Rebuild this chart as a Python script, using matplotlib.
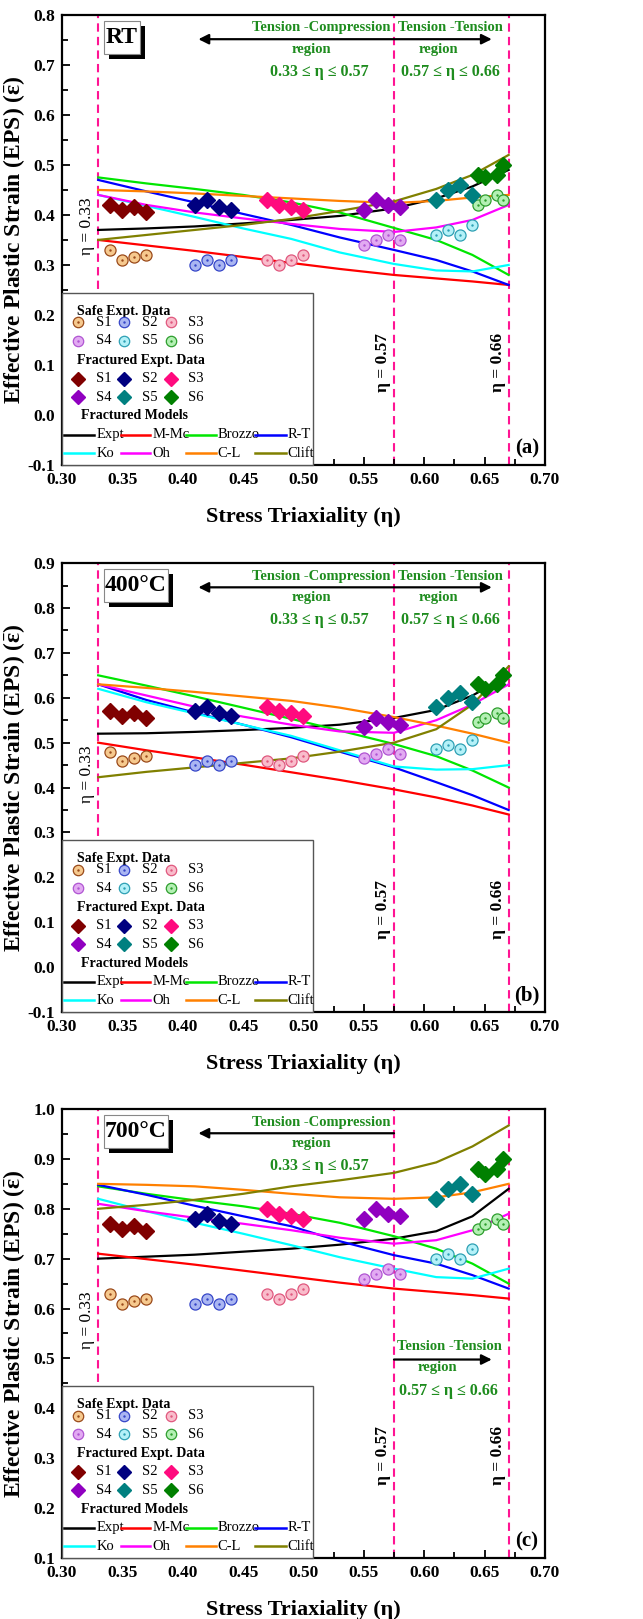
import numpy as np
import matplotlib
matplotlib.use('Agg')
import matplotlib.pyplot as plt
from matplotlib.patches import Rectangle
from matplotlib.lines import Line2D
from matplotlib.ticker import MultipleLocator, FormatStrFormatter

plt.rcParams['font.family'] = ['Liberation Serif', 'DejaVu Serif']
plt.rcParams['mathtext.fontset'] = 'custom'
plt.rcParams['mathtext.rm'] = 'Liberation Serif:bold'
plt.rcParams['mathtext.it'] = 'Liberation Serif:bold'
plt.rcParams['mathtext.bf'] = 'Liberation Serif:bold'

# stress triaxiality of the four tests of every specimen
eta_s1 = [0.34, 0.35, 0.36, 0.37]
eta_s2 = [0.41, 0.42, 0.43, 0.44]
eta_s3 = [0.47, 0.48, 0.49, 0.50]
eta_s4 = [0.55, 0.56, 0.57, 0.58]
eta_s5 = [0.61, 0.62, 0.63, 0.64]
eta_s6 = [0.645, 0.65, 0.66, 0.665]
eta_specimens = [eta_s1, eta_s2, eta_s3, eta_s4, eta_s5, eta_s6]
specimen_names = ['S1', 'S2', 'S3', 'S4', 'S5', 'S6']

# safe / fractured experimental strains (S1..S6)
safe_rt = [[0.33, 0.31, 0.315, 0.32], [0.30, 0.31, 0.30, 0.31], [0.31, 0.30, 0.31, 0.32],
           [0.34, 0.35, 0.36, 0.35], [0.36, 0.37, 0.36, 0.38], [0.42, 0.43, 0.44, 0.43]]
frac_rt = [[0.42, 0.41, 0.415, 0.405], [0.42, 0.43, 0.415, 0.41], [0.43, 0.42, 0.415, 0.41],
           [0.41, 0.43, 0.42, 0.415], [0.43, 0.45, 0.46, 0.44], [0.48, 0.475, 0.48, 0.50]]
safe_400 = [[0.48, 0.46, 0.465, 0.47], [0.45, 0.46, 0.45, 0.46], [0.46, 0.45, 0.46, 0.47],
            [0.465, 0.475, 0.485, 0.475], [0.485, 0.495, 0.485, 0.505], [0.545, 0.555, 0.565, 0.555]]
frac_400 = [[0.57, 0.56, 0.565, 0.555], [0.57, 0.58, 0.565, 0.56], [0.58, 0.57, 0.565, 0.56],
            [0.535, 0.555, 0.545, 0.54], [0.58, 0.60, 0.61, 0.59], [0.63, 0.62, 0.63, 0.65]]
safe_700 = [[0.63, 0.61, 0.615, 0.62], [0.61, 0.62, 0.61, 0.62], [0.63, 0.62, 0.63, 0.64],
            [0.66, 0.67, 0.68, 0.67], [0.70, 0.71, 0.70, 0.72], [0.76, 0.77, 0.78, 0.77]]
frac_700 = [[0.77, 0.76, 0.765, 0.755], [0.78, 0.79, 0.775, 0.77], [0.80, 0.79, 0.785, 0.78],
            [0.78, 0.80, 0.79, 0.785], [0.82, 0.84, 0.85, 0.83], [0.88, 0.87, 0.88, 0.90]]

# fracture model curves
eta_curve = [0.33, 0.37, 0.41, 0.45, 0.49, 0.53, 0.575, 0.61, 0.64, 0.67]
model_names = ['Expt', 'M-Mc', 'Brozzo', 'R-T', 'Ko', 'Oh', 'C-L', 'Clift']
models_rt = {
    'Expt':   [0.37, 0.373, 0.377, 0.383, 0.39, 0.398, 0.413, 0.433, 0.457, 0.49],
    'M-Mc':   [0.35, 0.339, 0.328, 0.316, 0.304, 0.292, 0.28, 0.273, 0.267, 0.26],
    'Brozzo': [0.475, 0.463, 0.452, 0.44, 0.425, 0.405, 0.374, 0.35, 0.32, 0.28],
    'R-T':    [0.47, 0.447, 0.425, 0.402, 0.38, 0.355, 0.33, 0.31, 0.287, 0.26],
    'Ko':     [0.44, 0.418, 0.396, 0.373, 0.352, 0.325, 0.302, 0.289, 0.287, 0.30],
    'Oh':     [0.44, 0.42, 0.405, 0.393, 0.382, 0.372, 0.366, 0.375, 0.39, 0.42],
    'C-L':    [0.45, 0.447, 0.443, 0.438, 0.433, 0.428, 0.424, 0.428, 0.435, 0.44],
    'Clift':  [0.35, 0.36, 0.37, 0.38, 0.392, 0.408, 0.427, 0.452, 0.48, 0.52],
}
models_400 = {
    'Expt':   [0.52, 0.521, 0.524, 0.528, 0.533, 0.54, 0.555, 0.573, 0.605, 0.65],
    'M-Mc':   [0.50, 0.483, 0.467, 0.451, 0.434, 0.417, 0.396, 0.378, 0.36, 0.34],
    'Brozzo': [0.65, 0.627, 0.603, 0.578, 0.553, 0.527, 0.497, 0.47, 0.438, 0.40],
    'R-T':    [0.63, 0.595, 0.567, 0.54, 0.512, 0.48, 0.445, 0.412, 0.383, 0.35],
    'Ko':     [0.62, 0.59, 0.565, 0.54, 0.515, 0.483, 0.447, 0.44, 0.441, 0.45],
    'Oh':     [0.63, 0.605, 0.58, 0.558, 0.54, 0.525, 0.522, 0.55, 0.585, 0.63],
    'C-L':    [0.63, 0.622, 0.613, 0.603, 0.593, 0.578, 0.557, 0.538, 0.52, 0.50],
    'Clift':  [0.423, 0.435, 0.445, 0.455, 0.465, 0.48, 0.50, 0.53, 0.585, 0.67],
}
models_700 = {
    'Expt':   [0.70, 0.704, 0.708, 0.714, 0.72, 0.728, 0.74, 0.755, 0.785, 0.84],
    'M-Mc':   [0.71, 0.699, 0.688, 0.676, 0.664, 0.652, 0.64, 0.633, 0.627, 0.62],
    'Brozzo': [0.845, 0.83, 0.817, 0.805, 0.79, 0.772, 0.745, 0.72, 0.69, 0.65],
    'R-T':    [0.848, 0.828, 0.806, 0.785, 0.765, 0.735, 0.707, 0.69, 0.667, 0.64],
    'Ko':     [0.82, 0.795, 0.772, 0.75, 0.727, 0.703, 0.68, 0.663, 0.66, 0.68],
    'Oh':     [0.81, 0.795, 0.782, 0.77, 0.757, 0.742, 0.73, 0.737, 0.757, 0.79],
    'C-L':    [0.85, 0.848, 0.845, 0.838, 0.83, 0.823, 0.82, 0.823, 0.833, 0.85],
    'Clift':  [0.80, 0.808, 0.818, 0.83, 0.845, 0.857, 0.872, 0.893, 0.925, 0.967],
}

eta_lines = [0.33, 0.575, 0.67]

# styles
safe_fill = ['#F6C98E', '#AAB6F2', '#F9BCCB', '#E2AAF2', '#B4F1F8', '#B4F0B4']
safe_edge = ['#9A4A1A', '#3646C8', '#E0587E', '#B055D2', '#2EA0B4', '#2E9E2E']
frac_color = ['#800000', '#000080', '#FF0A7E', '#9000C0', '#008080', '#008000']
model_color = {'Expt': 'black', 'M-Mc': '#FF0000', 'Brozzo': '#00E600', 'R-T': '#0000FF',
               'Ko': '#00FFFF', 'Oh': '#FF00FF', 'C-L': '#FF8000', 'Clift': '#808000'}
pink = '#FF1493'
green = '#1E8C1E'


def draw_legend(ax):
    ax.add_patch(Rectangle((0, 0), 0.52, 0.383, transform=ax.transAxes, facecolor='white',
                           edgecolor='#555555', lw=1.0, zorder=6, clip_on=False))
    kw = dict(transform=ax.transAxes, zorder=7, va='center')
    ax.text(0.032, 0.341, 'Safe Expt. Data', fontsize=10, fontweight='bold', **kw)
    ax.text(0.032, 0.233, 'Fractured Expt. Data', fontsize=10, fontweight='bold', **kw)
    ax.text(0.039, 0.109, 'Fractured Models', fontsize=10, fontweight='bold', **kw)
    col_x = [0.034, 0.129, 0.225]
    for i in range(6):
        x = col_x[i % 3]
        y_safe = [0.317, 0.276][i // 3]
        y_frac = [0.192, 0.151][i // 3]
        ax.plot([x], [y_safe], 'o', ms=7.5, mfc=safe_fill[i], mec=safe_edge[i], mew=0.9,
                transform=ax.transAxes, zorder=7, clip_on=False)
        ax.plot([x], [y_safe], '.', ms=1.5, color=safe_edge[i], transform=ax.transAxes,
                zorder=8, clip_on=False)
        ax.text(x + 0.036, y_safe, specimen_names[i], fontsize=10.5, **kw)
        ax.plot([x], [y_frac], 'D', ms=7.5, color=frac_color[i], transform=ax.transAxes,
                zorder=7, clip_on=False)
        ax.text(x + 0.036, y_frac, specimen_names[i], fontsize=10.5, **kw)
    seg_x = [(0.0045, 0.067), (0.122, 0.183), (0.257, 0.318), (0.400, 0.463)]
    for i, name in enumerate(model_names):
        x0, x1 = seg_x[i % 4]
        y = [0.067, 0.026][i // 4]
        ax.add_line(Line2D([x0, x1], [y, y], color=model_color[name], lw=1.8,
                           transform=ax.transAxes, zorder=7))
        ax.text(x1 + 0.004, y, name, fontsize=10.5, **kw)


def draw_panel(ax, safe, frac, models, ylim, tag, letter):
    ax.set_xlim(0.30, 0.70)
    ax.set_ylim(*ylim)
    for x in eta_lines:
        ax.axvline(x, color=pink, ls=(0, (4, 2.5)), lw=1.5, zorder=1)
    for name in model_names:
        ax.plot(eta_curve, models[name], color=model_color[name], lw=1.6, zorder=2)
    for i in range(6):
        ax.plot(eta_specimens[i], safe[i], 'o', ms=8, mfc=safe_fill[i], mec=safe_edge[i],
                mew=0.9, zorder=3)
        ax.plot(eta_specimens[i], safe[i], '.', ms=1.5, color=safe_edge[i], zorder=4)
        ax.plot(eta_specimens[i], frac[i], 'D', ms=8.5, color=frac_color[i], zorder=4)

    ax.xaxis.set_major_locator(MultipleLocator(0.05))
    ax.xaxis.set_minor_locator(MultipleLocator(0.025))
    ax.yaxis.set_major_locator(MultipleLocator(0.1))
    ax.yaxis.set_minor_locator(MultipleLocator(0.05))
    ax.xaxis.set_major_formatter(FormatStrFormatter('%.2f'))
    ax.yaxis.set_major_formatter(FormatStrFormatter('%.1f'))
    ax.tick_params(which='both', direction='in', top=False, right=False, width=1.3)
    ax.tick_params(which='major', length=6, labelsize=12.5, pad=5)
    ax.tick_params(which='minor', length=4)
    for lab in ax.get_xticklabels() + ax.get_yticklabels():
        lab.set_fontweight('bold')
    for sp in ax.spines.values():
        sp.set_linewidth(1.6)

    ax.set_xlabel('Stress Triaxiality (η)', fontsize=16, fontweight='bold')
    ax.set_ylabel('Effective Plastic Strain (EPS) ($\\bar{\\mathrm{\\varepsilon}}$)',
                  fontsize=17, fontweight='bold')
    ax.xaxis.set_label_coords(0.5, -0.093)
    ax.yaxis.set_label_coords(-0.073, 0.5)

    tr = ax.get_xaxis_transform()
    ax.text(0.3275, 0.53, 'η = 0.33', rotation=90, ha='right', va='center', fontsize=12.5,
            transform=tr)
    ax.text(0.5725, 0.228, 'η = 0.57', rotation=90, ha='right', va='center', fontsize=12.5,
            fontweight='bold', transform=tr)
    ax.text(0.6675, 0.228, 'η = 0.66', rotation=90, ha='right', va='center', fontsize=12.5,
            fontweight='bold', transform=tr)

    # temperature box with shadow
    w = 0.074 if tag == 'RT' else 0.132
    ax.add_patch(Rectangle((0.097, 0.902), w, 0.073, transform=ax.transAxes,
                           facecolor='black', edgecolor='none', zorder=5))
    ax.add_patch(Rectangle((0.087, 0.913), w, 0.073, transform=ax.transAxes,
                           facecolor='white', edgecolor='#888888', lw=0.8, zorder=6))
    ax.text(0.087 + w / 2, 0.9495, tag, ha='center', va='center', fontsize=17,
            fontweight='bold', transform=ax.transAxes, zorder=7)

    # region annotations
    tkw = dict(ha='center', va='center', fontsize=10.5, fontweight='bold', color=green,
               transform=tr)
    ikw = dict(tkw, fontsize=11.5)
    ax.text(0.515, 0.971, 'Tension -Compression', **tkw)
    ax.text(0.507, 0.923, 'region', **tkw)
    ax.text(0.513, 0.873, '0.33 ≤ η ≤ 0.57', **ikw)
    akw = dict(color='black', lw=1.6, mutation_scale=15, shrinkA=0, shrinkB=0)
    if letter != '(c)':
        ax.text(0.622, 0.971, 'Tension -Tension', **tkw)
        ax.text(0.612, 0.923, 'region', **tkw)
        ax.text(0.622, 0.873, '0.57 ≤ η ≤ 0.66', **ikw)
        ax.annotate('', xy=(0.413, 0.946), xytext=(0.656, 0.946), xycoords=tr,
                    textcoords=tr, arrowprops=dict(arrowstyle='<|-|>', **akw))
    else:
        ax.annotate('', xy=(0.413, 0.946), xytext=(0.575, 0.946), xycoords=tr,
                    textcoords=tr, arrowprops=dict(arrowstyle='-|>', **akw))
        ax.text(0.621, 0.472, 'Tension -Tension', **tkw)
        ax.text(0.611, 0.424, 'region', **tkw)
        ax.text(0.620, 0.373, '0.57 ≤ η ≤ 0.66', **ikw)
        ax.annotate('', xy=(0.656, 0.442), xytext=(0.575, 0.442), xycoords=tr,
                    textcoords=tr, arrowprops=dict(arrowstyle='-|>', **akw))

    ax.text(0.685, 0.036, letter, ha='center', va='center', fontsize=15, fontweight='bold',
            transform=tr)
    draw_legend(ax)


fig = plt.figure(figsize=(6.43, 16.19), dpi=100)
ax_a = fig.add_axes([0.0964, 0.7128, 0.751, 0.278])
ax_b = fig.add_axes([0.0964, 0.3749, 0.751, 0.2773])
ax_c = fig.add_axes([0.0964, 0.0377, 0.751, 0.2773])

draw_panel(ax_a, safe_rt, frac_rt, models_rt, (-0.1, 0.8), 'RT', '(a)')
draw_panel(ax_b, safe_400, frac_400, models_400, (-0.1, 0.9), '400°C', '(b)')
draw_panel(ax_c, safe_700, frac_700, models_700, (0.1, 1.0), '700°C', '(c)')

fig.savefig('out.png', dpi=100)
